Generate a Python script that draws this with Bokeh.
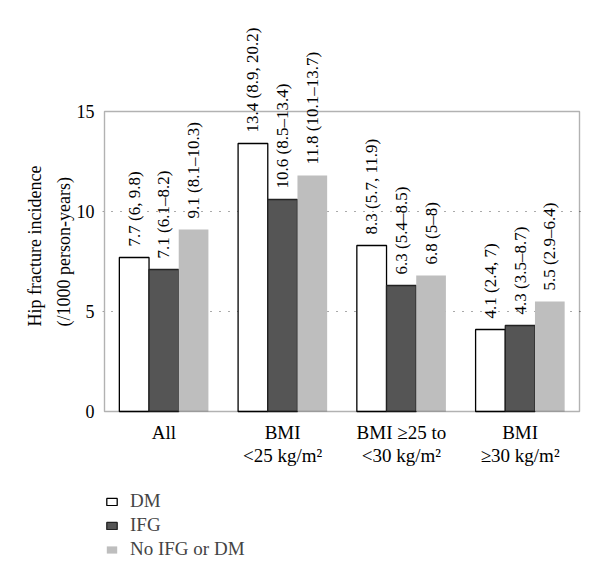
from bokeh.plotting import figure
from bokeh.models import ColumnDataSource, FixedTicker, Legend, LegendItem, Range1d, BoxAnnotation, Title
from bokeh.core.properties import value
from bokeh.transform import dodge
from bokeh.embed import file_html
from bokeh.resources import INLINE

# ---- data ----
groups = [0, 1, 2, 3]
group_labels = ["All", "BMI\n<25 kg/m²", "BMI ≥25 to\n<30 kg/m²", "BMI\n≥30 kg/m²"]
series_names = ["DM", "IFG", "No IFG or DM"]
dm_values = [7.7, 13.4, 8.3, 4.1]
ifg_values = [7.1, 10.6, 6.3, 4.3]
none_values = [9.1, 11.8, 6.8, 5.5]
dm_labels = ["7.7 (6, 9.8)", "13.4 (8.9, 20.2)", "8.3 (5.7, 11.9)", "4.1 (2.4, 7)"]
ifg_labels = ["7.1 (6.1–8.2)", "10.6 (8.5–13.4)", "6.3 (5.4–8.5)", "4.3 (3.5–8.7)"]
none_labels = ["9.1 (8.1–10.3)", "11.8 (10.1–13.7)", "6.8 (5–8)", "5.5 (2.9–6.4)"]
y_ticks = [0, 5, 10, 15]
y_max = 15
y_title_lines = ["Hip fracture incidence", "(/1000 person-years)"]

FONT = "Liberation Serif"

src = ColumnDataSource(dict(
    x=groups, dm=dm_values, ifg=ifg_values, no=none_values,
    dml=dm_labels, ifgl=ifg_labels, nol=none_labels,
))
cat_src = ColumnDataSource(dict(x=groups, y=[0] * len(groups), t=group_labels))

pad = 2 / 118.75  # small margin so the box's edges are not clipped
# the frame spans the full height so rotated labels, category labels and legend are not clipped
p = figure(width=584, height=562, output_backend="svg", toolbar_location=None,
           x_axis_type=None,
           x_range=Range1d(-0.5 - pad, 3.5 + pad), y_range=Range1d(-7.55, 20.55),
           min_border_left=102, min_border_right=3, min_border_top=0, min_border_bottom=0)

p.outline_line_color = None
p.add_layout(BoxAnnotation(left=-0.5, right=3.5, bottom=0, top=y_max,
                           fill_alpha=0, line_color="black", line_width=1.4))

w = 0.25
specs = [
    ("dm", "dml", -0.25, "white", "black"),
    ("ifg", "ifgl", 0.0, "#555555", "#222222"),
    ("no", "nol", 0.25, "#bebebe", None),
]
renderers = []
for (col, lcol, off, fill, line) in specs:
    r = p.vbar(x=dodge("x", off), top=col, width=w, source=src,
               fill_color=fill, line_color=line, line_width=1.3)
    renderers.append(r)
    p.text(x=dodge("x", off), y=col, text=lcol, source=src, angle=1.5708,
           text_align="left", text_baseline="middle", x_offset=0, y_offset=-11,
           text_font=value(FONT), text_font_size="17px", text_color="black")

# category labels under the box
p.text(x="x", y="y", text="t", source=cat_src, text_align="center", text_baseline="top",
       y_offset=10, text_font=value(FONT), text_font_size="19px", text_color="black",
       text_line_height=1.12)

legend = Legend(items=[LegendItem(label=n, renderers=[r]) for n, r in zip(series_names, renderers)],
                location=(3, 2), orientation="vertical")
legend.border_line_color = None
legend.background_fill_color = None
legend.background_fill_alpha = 0
legend.padding = 0
legend.margin = 0
legend.spacing = 2
legend.label_height = 21
legend.glyph_width = 13
legend.glyph_height = 9
legend.label_standoff = 12
legend.label_text_font = FONT
legend.label_text_font_size = "19px"
p.add_layout(legend, "center")

# y axis
p.yaxis.ticker = FixedTicker(ticks=y_ticks)
p.yaxis.axis_line_color = None
p.yaxis.major_tick_line_color = None
p.yaxis.minor_tick_line_color = None
p.yaxis.major_label_standoff = 2
p.yaxis.major_label_text_font = FONT
p.yaxis.major_label_text_font_size = "18px"
p.yaxis.major_label_text_color = "black"

for i, line in enumerate(reversed(y_title_lines)):
    t = Title(text=line, align="left", offset=236, standoff=0 if i == 0 else 14,
              text_font=FONT, text_font_size="18px", text_font_style="normal",
              text_color="black")
    p.add_layout(t, "left")

p.xgrid.grid_line_color = None
p.ygrid.ticker = FixedTicker(ticks=[5, 10])
p.ygrid.grid_line_color = "#555555"
p.ygrid.grid_line_dash = "1 8"
p.ygrid.grid_line_width = 1.2

open("out.html", "w").write(file_html(p, INLINE))
